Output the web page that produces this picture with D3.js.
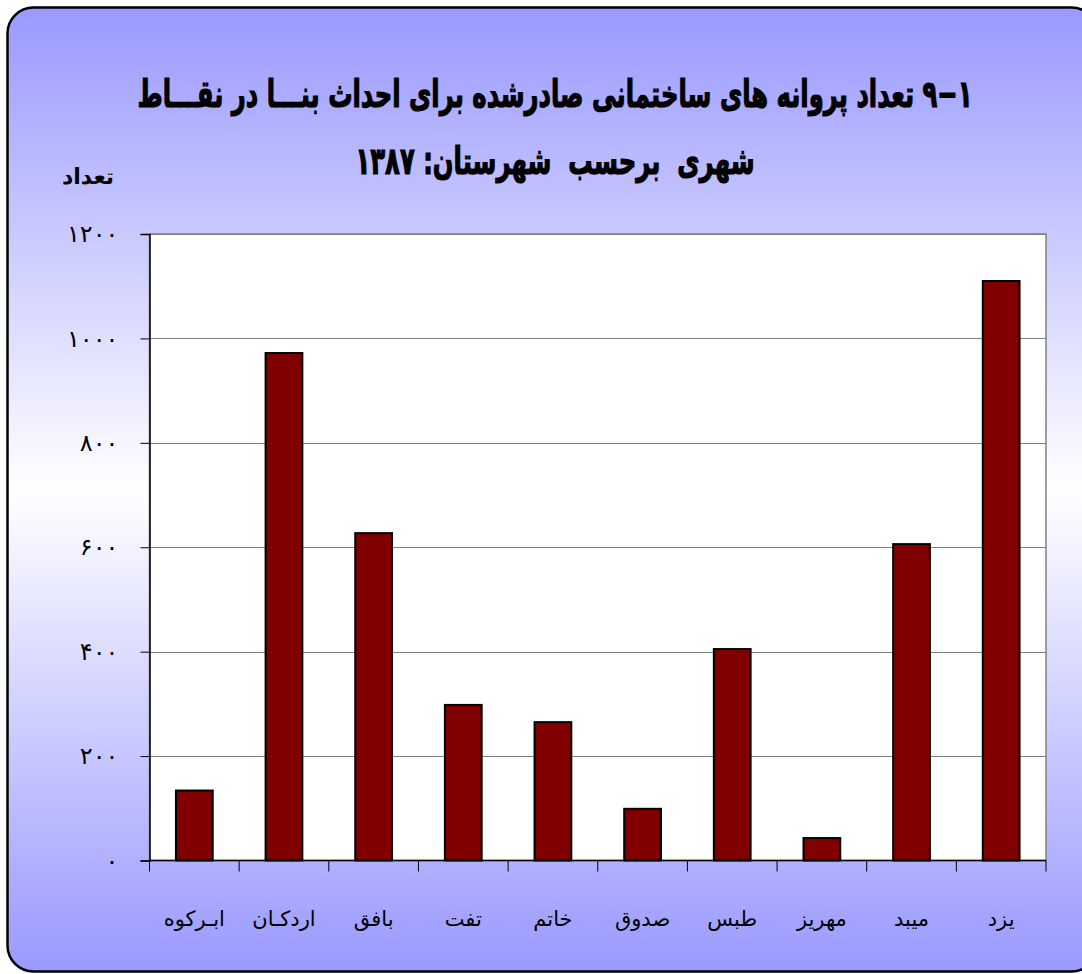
<!DOCTYPE html>
<html>
<head>
<meta charset="utf-8">
<script src="https://cdn.jsdelivr.net/npm/d3@7"></script>
<style>
  body { margin: 0; background: #fff; }
  svg { display: block; }
  text { font-family: "DejaVu Sans", sans-serif; white-space: pre; }
</style>
</head>
<body>
<svg id="chart" width="1082" height="974"></svg>
<script>
// towns (left to right) and permits issued, 1387
var towns = ['ابـرکوه', 'اردکـان', 'بافق', 'تفت', 'خاتم', 'صدوق', 'طبس', 'مهریز', 'میبد', 'یزد'];
var permits = [134, 972, 627, 298, 265, 99, 405, 43, 606, 1110];
var yTicks = [0, 200, 400, 600, 800, 1000, 1200];

var titleLine1 = '۹−۱ تعداد پروانه های ساختمانی صادرشده برای احداث بنـــا در نقـــاط';
var titleLine2 = 'شهری  برحسب  شهرستان: ۱۳۸۷';
var yLabel = 'تعداد';

var faDigits = '۰۱۲۳۴۵۶۷۸۹';
var toFa = function(s) { return String(s).replace(/[0-9]/g, d => faDigits[+d]); };

var svg = d3.select('#chart');

// background panel
var defs = svg.append('defs');
var grad = defs.append('linearGradient')
    .attr('id', 'bg').attr('x1', 0).attr('y1', 0).attr('x2', 0).attr('y2', 1);
grad.append('stop').attr('offset', '0%').attr('stop-color', '#9999ff');
grad.append('stop').attr('offset', '50%').attr('stop-color', '#ffffff');
grad.append('stop').attr('offset', '100%').attr('stop-color', '#9999ff');

svg.append('rect')
    .attr('x', 7.5).attr('y', 7.5)
    .attr('width', 1090).attr('height', 964)
    .attr('rx', 26).attr('ry', 26)
    .attr('fill', 'url(#bg)')
    .attr('stroke', '#000')
    .attr('stroke-width', 2.5);

var plot = {left: 149.5, top: 234, right: 1046, bottom: 860.5};

var x = d3.scaleBand()
    .domain(towns)
    .range([plot.left, plot.right])
    .paddingInner(0.59)
    .paddingOuter(0.295);

var y = d3.scaleLinear()
    .domain([0, 1200])
    .range([plot.bottom, plot.top]);

// plot area
svg.append('rect')
    .attr('x', plot.left).attr('y', plot.top)
    .attr('width', plot.right - plot.left).attr('height', plot.bottom - plot.top)
    .attr('fill', '#fff')
    .attr('stroke', '#808080')
    .attr('stroke-width', 1.5);

// gridlines
svg.append('g')
    .selectAll('line')
    .data(yTicks.filter(d => d > 0))
    .enter().append('line')
    .attr('x1', plot.left).attr('x2', plot.right)
    .attr('y1', d => Math.round(y(d)) + 0.5).attr('y2', d => Math.round(y(d)) + 0.5)
    .attr('stroke', '#808080')
    .attr('stroke-width', 1);

// bars
svg.append('g')
    .selectAll('rect')
    .data(permits)
    .enter().append('rect')
    .attr('x', (d, i) => x(towns[i]))
    .attr('y', d => y(d))
    .attr('width', x.bandwidth())
    .attr('height', d => y(0) - y(d))
    .attr('fill', '#800000')
    .attr('stroke', '#000')
    .attr('stroke-width', 2);

// y axis
var yAxis = d3.axisLeft(y)
    .tickValues(yTicks)
    .tickSize(9)
    .tickPadding(22)
    .tickFormat(d => toFa(d));
var gy = svg.append('g')
    .attr('transform', 'translate(' + plot.left + ',0)')
    .call(yAxis);
gy.select('.domain').attr('stroke', '#000').attr('stroke-width', 1.5);
gy.selectAll('.tick line').attr('stroke', '#000').attr('stroke-width', 1);
gy.selectAll('.tick text')
    .attr('fill', '#000')
    .style('font-size', '24px')
    .style('font-family', '"DejaVu Sans", sans-serif');

// x axis: ticks at category boundaries
var bounds = towns.map(t => x(t) - x.step() * x.paddingInner() / 2);
bounds.push(plot.right);
var gx = svg.append('g');
gx.append('line')
    .attr('x1', plot.left).attr('x2', plot.right)
    .attr('y1', plot.bottom).attr('y2', plot.bottom)
    .attr('stroke', '#000').attr('stroke-width', 1.5);
gx.selectAll('line.tk')
    .data(bounds)
    .enter().append('line')
    .attr('class', 'tk')
    .attr('x1', d => d).attr('x2', d => d)
    .attr('y1', plot.bottom).attr('y2', plot.bottom + 11)
    .attr('stroke', '#000').attr('stroke-width', 1);
gx.selectAll('text')
    .data(towns)
    .enter().append('text')
    .attr('x', d => x(d) + x.bandwidth() / 2)
    .attr('y', 926)
    .attr('text-anchor', 'middle')
    .attr('direction', 'rtl')
    .style('font-size', '21px')
    .attr('fill', '#000')
    .text(d => d);

// titles (stretched vertically to mimic the tall bold face)
var t1 = svg.append('text')
    .attr('text-anchor', 'middle')
    .attr('direction', 'rtl')
    .style('font-weight', 'bold')
    .style('font-size', '30px')
    .attr('stroke', '#000').attr('stroke-width', 0.8)
    .text(titleLine1);
var w1 = t1.node().getComputedTextLength();
var fs = 30 * 835 / w1;
t1.style('font-size', fs + 'px')
    .attr('transform', 'translate(555,107) scale(1,1.55)');

svg.append('text')
    .attr('text-anchor', 'middle')
    .attr('direction', 'rtl')
    .style('font-weight', 'bold')
    .style('font-size', fs + 'px')
    .attr('stroke', '#000').attr('stroke-width', 0.8)
    .attr('transform', 'translate(555,174) scale(1,1.55)')
    .text(titleLine2);

svg.append('text')
    .attr('x', 88).attr('y', 184)
    .attr('text-anchor', 'middle')
    .attr('direction', 'rtl')
    .style('font-weight', 'bold')
    .style('font-size', '22px')
    .text(yLabel);
</script>
</body>
</html>
